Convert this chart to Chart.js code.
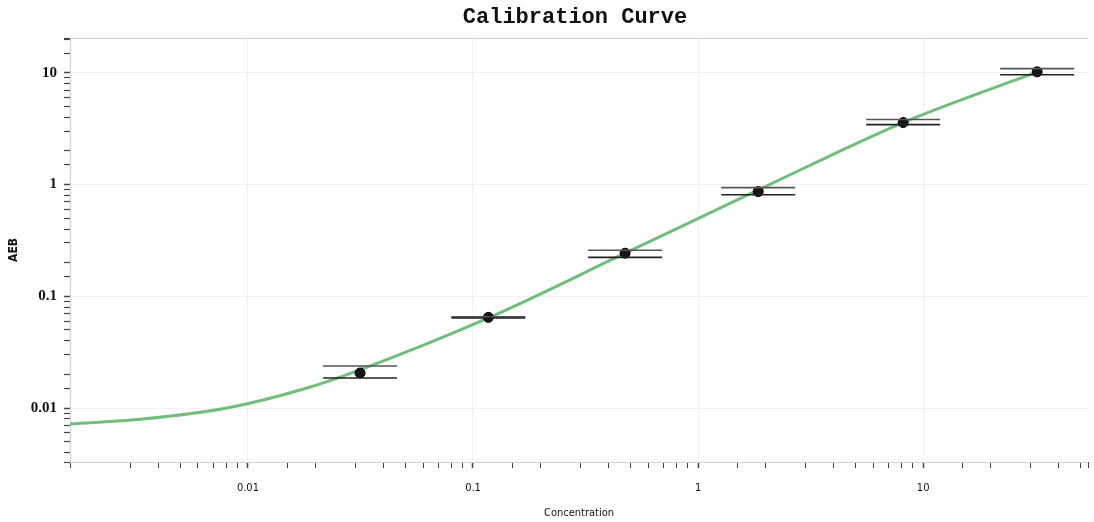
<!DOCTYPE html>
<html>
<head>
<meta charset="utf-8">
<script src="https://cdn.jsdelivr.net/npm/chart.js@4.4.1/dist/chart.umd.min.js"></script>
<style>
  html, body { margin: 0; padding: 0; background: #ffffff; }
  #wrap { width: 1094px; height: 522px; position: relative; }
</style>
</head>
<body>
<div id="wrap"><canvas id="c" width="1094" height="522"></canvas></div>
<script>
// ---- data ----
const chartTitle = 'Calibration Curve';
const xTitle = 'Concentration';
const yTitle = 'AEB';

const concentration = [0.0315, 0.117, 0.474, 1.85, 8.15, 32.1];
const aebMean       = [0.0206, 0.0648, 0.243, 0.865, 3.59, 10.2];
const aebUpper      = [0.0238, 0.0655, 0.258, 0.94, 3.82, 10.9];
const aebLower      = [0.0186, 0.0640, 0.223, 0.81, 3.44, 9.6];

const curveX = [0.00162, 0.00341, 0.00807, 0.0183, 0.0321, 0.117, 0.474, 1.85, 8.15, 32.1];
const curveY = [0.00719, 0.00797, 0.0100, 0.0151, 0.0223, 0.064, 0.243, 0.895, 3.59, 10.2];

const xRange = [0.00162, 54];
const yRange = [0.00329, 20.5];
const majorTicks = [0.01, 0.1, 1, 10];

// ---- helpers ----
function isMajor(v) {
  return majorTicks.some(m => Math.abs(v - m) / m < 1e-6);
}
function fmt(v) {
  return isMajor(v) ? String(v) : '';
}

const curveData = curveX.map((x, i) => ({ x: x, y: curveY[i] }));
const pointData = concentration.map((x, i) => ({ x: x, y: aebMean[i] }));

const extrasPlugin = {
  id: 'extras',
  beforeDatasetsDraw(chart) {
    const { ctx, chartArea: a } = chart;
    ctx.save();
    ctx.strokeStyle = '#d2d2d2';
    ctx.lineWidth = 1.2;
    ctx.beginPath();
    ctx.moveTo(a.right, a.top + 0.5);
    ctx.lineTo(a.left + 0.5, a.top + 0.5);
    ctx.lineTo(a.left + 0.5, a.bottom + 0.5);
    ctx.lineTo(a.right, a.bottom + 0.5);
    ctx.stroke();
    ctx.restore();
  },
  afterDatasetsDraw(chart) {
    const { ctx, scales } = chart;
    const xs = scales.x, ys = scales.y;
    const half = 37;
    ctx.save();
    ctx.lineWidth = 1.6;
    for (let i = 0; i < concentration.length; i++) {
      const cx = xs.getPixelForValue(concentration[i]);
      [aebUpper[i], aebLower[i]].forEach((v, k) => {
        const py = ys.getPixelForValue(v);
        ctx.strokeStyle = k === 0 ? '#555555' : '#222222';
        ctx.beginPath();
        ctx.moveTo(cx - half, py);
        ctx.lineTo(cx + half, py);
        ctx.stroke();
      });
    }
    ctx.restore();
  },
  afterDraw(chart) {
    const { ctx } = chart;
    ctx.save();
    ctx.fillStyle = '#111111';
    ctx.font = 'bold 22px "Liberation Mono", "DejaVu Sans Mono", monospace';
    ctx.textAlign = 'center';
    ctx.textBaseline = 'middle';
    ctx.fillText(chartTitle, 575, 17);
    ctx.restore();
  }
};

new Chart(document.getElementById('c'), {
  type: 'scatter',
  data: {
    datasets: [
      {
        label: 'fit',
        data: curveData,
        showLine: true,
        borderColor: 'rgb(112,190,122)',
        borderWidth: 3,
        pointRadius: 0,
        cubicInterpolationMode: 'monotone',
        order: 2
      },
      {
        label: 'data',
        data: pointData,
        showLine: false,
        pointRadius: 5,
        pointBackgroundColor: '#151515',
        pointBorderColor: '#000000',
        pointBorderWidth: 1,
        order: 1
      }
    ]
  },
  options: {
    responsive: false,
    animation: false,
    devicePixelRatio: 1,
    layout: { padding: { top: 38, right: 0, left: 0, bottom: 0 } },
    plugins: {
      legend: { display: false },
      title: { display: false },
      tooltip: { enabled: false }
    },
    scales: {
      x: {
        type: 'logarithmic',
        min: xRange[0],
        max: xRange[1],
        border: { display: false },
        grid: {
          drawOnChartArea: true,
          color: ctx => (ctx.tick && isMajor(ctx.tick.value)) ? 'rgba(0,0,0,0.05)' : 'rgba(0,0,0,0)',
          tickColor: '#444444',
          tickLength: 6,
          tickWidth: ctx => (ctx.tick && isMajor(ctx.tick.value)) ? 1.5 : 1
        },
        ticks: {
          autoSkip: false,
          maxRotation: 0,
          padding: 14,
          color: '#111111',
          font: { family: '"DejaVu Sans Condensed", "DejaVu Sans", sans-serif', size: 11 },
          callback: v => fmt(v)
        },
        title: {
          display: true,
          text: xTitle,
          color: '#111111',
          font: { family: '"DejaVu Sans Condensed", "DejaVu Sans", sans-serif', size: 11 },
          padding: { top: 4, bottom: 2 }
        },
        afterFit: s => { s.height = 60; s.paddingLeft = 0; s.paddingRight = 0; }
      },
      y: {
        type: 'logarithmic',
        min: yRange[0],
        max: yRange[1],
        border: { display: false },
        grid: {
          drawOnChartArea: true,
          color: ctx => (ctx.tick && isMajor(ctx.tick.value)) ? 'rgba(0,0,0,0.05)' : 'rgba(0,0,0,0)',
          tickColor: '#444444',
          tickLength: 6,
          tickWidth: ctx => (ctx.tick && isMajor(ctx.tick.value)) ? 1.5 : 1.2
        },
        ticks: {
          autoSkip: false,
          padding: 7,
          color: '#111111',
          font: { family: '"Liberation Serif", "DejaVu Serif", serif', size: 15, weight: 'bold' },
          callback: v => fmt(v)
        },
        title: {
          display: true,
          text: yTitle,
          color: '#111111',
          font: { family: '"DejaVu Sans Condensed", "DejaVu Sans", sans-serif', size: 12, weight: 'bold' },
          padding: { top: 7, bottom: 0 }
        },
        afterFit: s => { s.width = 70; s.paddingTop = 0; s.paddingBottom = 0; }
      }
    }
  },
  plugins: [extrasPlugin]
});
</script>
</body>
</html>
